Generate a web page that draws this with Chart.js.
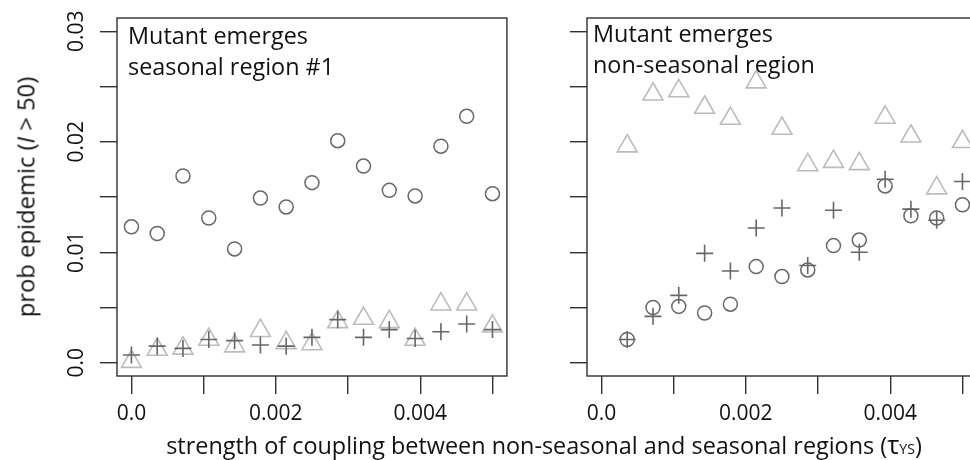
<!DOCTYPE html>
<html><head><meta charset="utf-8">
<script src="https://cdn.jsdelivr.net/npm/chart.js@4/dist/chart.umd.min.js"></script>
<style>
html,body{margin:0;padding:0;background:#fff;overflow:hidden;width:970px;height:460px;}
#wrap{position:relative;width:970px;height:460px;overflow:hidden;background:#fff;}
#c1{position:absolute;left:0;top:0;}
#c2{position:absolute;left:540px;top:0;}
.t{position:absolute;font-family:"Open Sans",sans-serif;font-size:23.4px;line-height:21px;color:#111;white-space:nowrap;}
#ytitle{left:26px;top:197px;transform:translate(-50%,-50%) rotate(-90deg);font-size:23.8px;}
#xtitle{left:544px;top:434px;transform:translateX(-50%);}
</style></head><body>
<div id="wrap">
<canvas id="c1" width="520" height="460" style="width:520px;height:460px"></canvas>
<canvas id="c2" width="450" height="460" style="width:450px;height:460px"></canvas>
<div class="t" id="ytitle">prob epidemic (<i>I</i> &gt; 50)</div>
<div class="t" id="xtitle">strength of coupling between non-seasonal and seasonal regions (<span style="font-size:1.1em">τ</span><span style="font-size:0.6em">YS</span>)</div>
</div>
<script>
// ---- data ----
const xLeft = [0, 0.000357, 0.000714, 0.001071, 0.001429, 0.001786, 0.002143, 0.0025, 0.002857, 0.003214, 0.003571, 0.003929, 0.004286, 0.004643, 0.005];
const xRight = [0.000357, 0.000714, 0.001071, 0.001429, 0.001786, 0.002143, 0.0025, 0.002857, 0.003214, 0.003571, 0.003929, 0.004286, 0.004643, 0.005];

const leftCircles   = [0.0123, 0.0117, 0.0169, 0.0131, 0.0103, 0.0149, 0.0141, 0.0163, 0.0201, 0.0178, 0.0156, 0.0151, 0.0196, 0.0223, 0.0153];
const leftTriangles = [0.0001, 0.0012, 0.0013, 0.0021, 0.0015, 0.0029, 0.0018, 0.0017, 0.0037, 0.0040, 0.0037, 0.0021, 0.0053, 0.0053, 0.0033];
const leftCrosses   = [0.0007, 0.0015, 0.0013, 0.0021, 0.0020, 0.0016, 0.0015, 0.0023, 0.0039, 0.0023, 0.0030, 0.0022, 0.0028, 0.0035, 0.0030];

const rightCircles   = [0.0021, 0.0050, 0.0051, 0.0045, 0.0053, 0.0087, 0.0078, 0.0084, 0.0106, 0.0111, 0.0160, 0.0133, 0.0131, 0.0143];
const rightTriangles = [0.0196, 0.0243, 0.0246, 0.0231, 0.0221, 0.0254, 0.0212, 0.0179, 0.0182, 0.0180, 0.0222, 0.0205, 0.0158, 0.0200];
const rightCrosses   = [0.0021, 0.0042, 0.0061, 0.0099, 0.0083, 0.0122, 0.0140, 0.0088, 0.0138, 0.0100, 0.0166, 0.0139, 0.0129, 0.0164];

const xTickValues = [0, 0.001, 0.002, 0.003, 0.004, 0.005];
const xTickLabels = ['0.0', '', '0.002', '', '0.004', ''];
const yTickValues = [0, 0.005, 0.01, 0.015, 0.02, 0.025, 0.03];
const yTickLabels = ['0.0', '', '0.01', '', '0.02', '', '0.03'];

const leftPanelText = ['Mutant emerges', 'seasonal region #1'];
const rightPanelText = ['Mutant emerges', 'non-seasonal region'];

// ---- styling ----
const DARK = '#676767', LIGHT = '#bcbcbc', AXIS = '#303030', TEXT = '#111111';
const FONT = '"Open Sans", sans-serif';

function pts(xs, ys) { return xs.map((x, i) => ({x: x, y: ys[i]})); }

const panelPlugin = {
  id: 'panelBox',
  afterDraw(chart, args, opts) {
    const ctx = chart.ctx, a = chart.chartArea;
    ctx.save();
    ctx.strokeStyle = AXIS; ctx.lineWidth = 1.4;
    ctx.strokeRect(a.left, a.top, a.right - a.left, a.bottom - a.top);
    ctx.fillStyle = TEXT;
    ctx.font = '23.4px ' + FONT;
    ctx.textBaseline = 'alphabetic';
    ctx.textAlign = 'left';
    (opts.lines || []).forEach((t, i) => ctx.fillText(t, a.left + opts.dx, opts.y0 + i * opts.dy));
    ctx.restore();
  }
};

function makeChart(id, xs, circ, tri, cross, yAxisWidth, showYLabels, lines, dx, y0, dy) {
  return new Chart(document.getElementById(id), {
    type: 'scatter',
    data: {
      datasets: [
        {data: pts(xs, cross), pointStyle: 'cross', pointRadius: 8.5, pointHoverRadius: 8.5, borderColor: DARK, pointBorderWidth: 1.6, backgroundColor: 'rgba(0,0,0,0)', order: 1, clip: false},
        {data: pts(xs, tri), pointStyle: 'triangle', pointRadius: 11.5, pointHoverRadius: 11.5, borderColor: LIGHT, pointBorderWidth: 1.6, backgroundColor: 'rgba(0,0,0,0)', order: 2, clip: false},
        {data: pts(xs, circ), pointStyle: 'circle', pointRadius: 7, pointHoverRadius: 7, borderColor: DARK, pointBorderWidth: 1.5, backgroundColor: 'rgba(0,0,0,0)', order: 3, clip: false}
      ]
    },
    options: {
      responsive: false, animation: false, devicePixelRatio: 1, events: [],
      layout: {padding: {left: 0, top: 18, right: 11, bottom: 0}},
      plugins: {legend: {display: false}, tooltip: {enabled: false},
        panelBox: {lines: lines, dx: dx, y0: y0, dy: dy}},
      scales: {
        x: {
          type: 'linear', min: -0.0002, max: 0.0052,
          afterBuildTicks: s => { s.ticks = xTickValues.map(v => ({value: v})); },
          afterFit: s => { s.height = 84; },
          border: {display: false},
          grid: {display: true, drawOnChartArea: false, drawTicks: true, tickLength: 18, color: AXIS, lineWidth: 1.4},
          ticks: {autoSkip: false, maxRotation: 0, minRotation: 0, padding: 7, color: TEXT,
                  font: {family: FONT, size: 21}, callback: (v, i) => xTickLabels[i]}
        },
        y: {
          type: 'linear', min: -0.0012, max: 0.0312,
          afterBuildTicks: s => { s.ticks = yTickValues.map(v => ({value: v})); },
          afterFit: s => { s.width = yAxisWidth; },
          border: {display: false},
          grid: {display: true, drawOnChartArea: false, drawTicks: true, tickLength: 17, color: AXIS, lineWidth: 1.4},
          ticks: {display: showYLabels, autoSkip: false, minRotation: 90, maxRotation: 90, crossAlign: 'center', padding: 2, color: TEXT,
                  font: {family: FONT, size: 21}, callback: (v, i) => yTickLabels[i]}
        }
      }
    },
    plugins: [panelPlugin]
  });
}

makeChart('c1', xLeft, leftCircles, leftTriangles, leftCrosses, 117, true, leftPanelText, 11, 44, 31);
makeChart('c2', xRight, rightCircles, rightTriangles, rightCrosses, 47, false, rightPanelText, 6, 42, 31);
</script>
</body></html>
